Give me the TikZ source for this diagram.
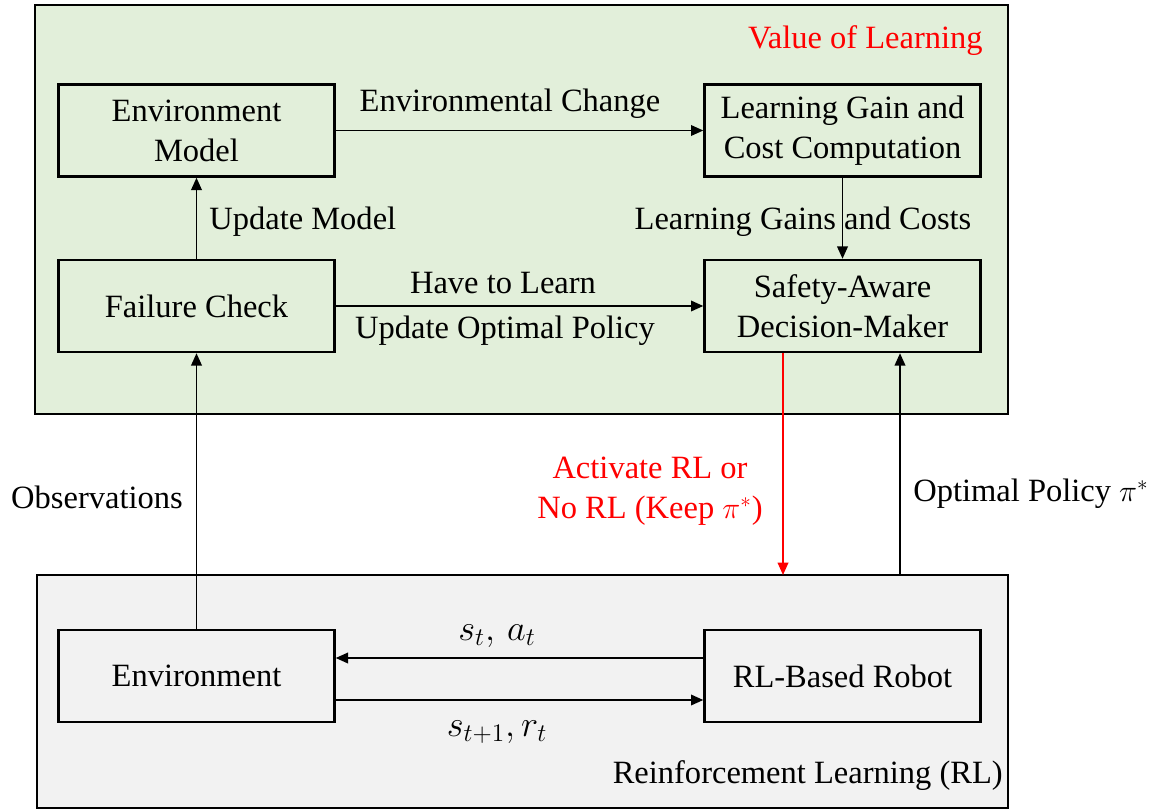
\documentclass[tikz,border=0pt]{standalone}
\usepackage{fontspec}
\setmainfont{Liberation Serif}
\usetikzlibrary{arrows.meta}
\definecolor{learnbg}{HTML}{E2EFDA}
\definecolor{rlbg}{HTML}{F2F2F2}
\definecolor{alert}{HTML}{FF0000}
\begin{document}
\begin{tikzpicture}[x=0.02cm,y=-0.02cm,
  font=\fontsize{18.5}{22.8}\selectfont,
  panel/.style={draw,line width=1.3pt,inner sep=0pt},
  block/.style={draw,line width=1.4pt,minimum width=5.52cm,minimum height=1.84cm,align=center,inner sep=0pt},
  twoline/.style={execute at begin node={\vspace*{2.4pt}}},
  link/.style={line width=1pt,-{Triangle[length=7pt,width=6pt]}},
  lbl/.style={inner sep=0pt,align=center},
  mathlbl/.style={inner sep=0pt,font=\fontsize{21}{24}\selectfont}]
\useasboundingbox (0,0) rectangle (1165,810);

% the two panels
\node[panel,fill=learnbg,minimum width=19.46cm,minimum height=8.18cm] (vol) at (521.5,209.5) {};
\node[panel,fill=rlbg,minimum width=19.42cm,minimum height=4.66cm] (rl) at (522.5,691.5) {};

% blocks
\node[block,twoline] (envm)  at (196.5,130.5) {Environment\\Model};
\node[block,twoline] (gain)  at (842.5,130.5) {Learning Gain and\\Cost Computation};
\node[block] (fail)  at (196.5,306)   {Failure Check};
\node[block,twoline] (safe)  at (842.5,306)   {Safety-Aware\\Decision-Maker};
\node[block] (env)   at (196.5,676)   {Environment};
\node[block] (robot) at (842.5,676)   {RL-Based Robot};

% panel captions
\node[lbl,anchor=east,text=alert] (volcap) at (983,41) {Value of Learning};
\node[lbl,anchor=east] (rlcap) at (1003,776) {Reinforcement Learning (RL)};

% connectors inside the value-of-learning panel
\draw[link] (envm.east) -- (gain.west);
\node[lbl] (chg) at (510,104) {Environmental Change};
\draw[link] (gain.south) -- (safe.north);
\node[lbl] (gc) at (803,222) {Learning Gains and Costs};
\draw[link] (fail.north) -- (envm.south);
\node[lbl,anchor=west] (upd) at (209,222) {Update Model};
\draw[link] (fail.east) -- (safe.west);
\node[lbl] (have) at (503,283) {Have to Learn};
\node[lbl] (uop) at (505,331) {Update Optimal Policy};

% connectors between the panels
\draw[link] (env.north) -- (fail.south);
\node[lbl] (obs) at (97,497) {Observations};
\coordinate (actend) at (783,575);
\coordinate (polstart) at (900,575);
\draw[link,draw=alert,fill=alert] (safe.south -| actend) -- (actend);
\node[lbl,text=alert] (act) at (650,491) {Activate RL or\\No RL (Keep $\pi^*$)};
\draw[link] (polstart) -- (safe.south -| polstart);
\node[lbl,anchor=west] (pol) at (913,494) {Optimal Policy $\pi^*$};

% the RL loop
\draw[link] (robot.west |- 0,658) -- (env.east |- 0,658);
\node[mathlbl] (sa) at (497,636) {$s_t,\,a_t$};
\draw[link] (env.east |- 0,700) -- (robot.west |- 0,700);
\node[mathlbl] (sr) at (497,732) {$s_{t+1},r_t$};
\end{tikzpicture}
\end{document}
